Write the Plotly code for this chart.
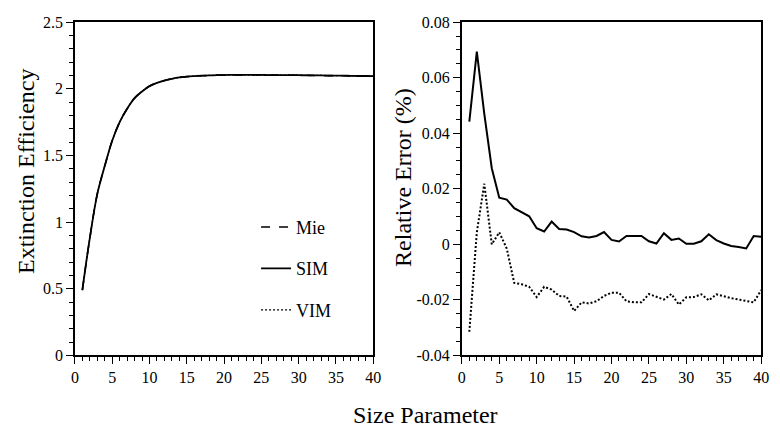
import plotly.graph_objects as go

# Size parameter grid
size_param = list(range(1, 41))

# Extinction efficiency (Mie, SIM and VIM coincide at this scale)
q_ext = [0.49, 0.88, 1.21, 1.42, 1.61, 1.75, 1.85, 1.93, 1.98, 2.02,
         2.045, 2.062, 2.075, 2.085, 2.091, 2.095, 2.098, 2.100, 2.102, 2.103,
         2.104, 2.104, 2.104, 2.104, 2.104, 2.103, 2.103, 2.103, 2.102, 2.102,
         2.101, 2.100, 2.100, 2.099, 2.098, 2.098, 2.097, 2.096, 2.096, 2.095]

# Relative error (%) of SIM and VIM against Mie
err_sim = [0.0442, 0.0694, 0.0470, 0.0274, 0.0168, 0.0161, 0.0130, 0.0115, 0.0101, 0.0058,
           0.0046, 0.0082, 0.0055, 0.0053, 0.0044, 0.0029, 0.0025, 0.0030, 0.0044, 0.0016,
           0.0010, 0.0030, 0.0030, 0.0030, 0.0011, 0.0003, 0.0040, 0.0016, 0.0021, 0.0002,
           0.0002, 0.0011, 0.0036, 0.0015, 0.0003, -0.0006, -0.0010, -0.0015, 0.0030, 0.0027]

err_vim = [-0.0315, 0.0043, 0.0218, 0.0000, 0.0043, -0.0015, -0.0139, -0.0144, -0.0153, -0.0190,
           -0.0153, -0.0163, -0.0186, -0.0188, -0.0240, -0.0209, -0.0213, -0.0205, -0.0186, -0.0174,
           -0.0174, -0.0205, -0.0209, -0.0209, -0.0179, -0.0190, -0.0199, -0.0179, -0.0217, -0.0191,
           -0.0190, -0.0180, -0.0202, -0.0180, -0.0188, -0.0194, -0.0199, -0.0203, -0.0209, -0.0165]

err_ticks = [-0.04, -0.02, 0, 0.02, 0.04, 0.06, 0.08]
err_tick_text = ["-0.04", "-0.02", "0", "0.02", "0.04", "0.06", "0.08"]

FONT = "Liberation Serif"
W, H = 780, 436

fig = go.Figure()

# Left panel: extinction efficiency
fig.add_trace(go.Scatter(x=size_param, y=q_ext, mode="lines", name="Mie",
                         legendgroup="mie", legendrank=1,
                         line=dict(color="black", width=1.6, dash="dash", shape="spline"),
                         xaxis="x", yaxis="y"))
fig.add_trace(go.Scatter(x=size_param, y=q_ext, mode="lines", name="VIM",
                         legendgroup="vim", legendrank=3,
                         line=dict(color="black", width=1.2, dash="2px,2px", shape="spline"),
                         xaxis="x", yaxis="y"))
fig.add_trace(go.Scatter(x=size_param, y=q_ext, mode="lines", name="SIM",
                         legendgroup="sim", legendrank=2,
                         line=dict(color="black", width=1.8, shape="spline"),
                         xaxis="x", yaxis="y"))

# Right panel: relative errors
fig.add_trace(go.Scatter(x=size_param, y=err_sim, mode="lines", showlegend=False,
                         line=dict(color="black", width=2),
                         xaxis="x2", yaxis="y2"))
fig.add_trace(go.Scatter(x=size_param, y=err_vim, mode="lines", showlegend=False,
                         line=dict(color="black", width=2, dash="2px,2px"),
                         xaxis="x2", yaxis="y2"))

tick_font = dict(family=FONT, size=16, color="black")
common = dict(showline=True, linecolor="black", linewidth=1.6, mirror=True,
              ticks="outside", ticklen=7, tickwidth=1.4, tickcolor="black",
              showgrid=False, zeroline=False, tickfont=tick_font)

y_dom = [(H - 361.5) / H, (H - 14.7) / H]

fig.update_layout(
    width=W, height=H, autosize=False,
    margin=dict(l=0, r=0, t=0, b=0),
    paper_bgcolor="white", plot_bgcolor="white",
    font=dict(family=FONT, color="black"),
    xaxis=dict(domain=[72 / W, 375 / W], range=[0, 40], dtick=5, tick0=0,
               minor=dict(dtick=1, tick0=0, ticks="outside", ticklen=4,
                          tickwidth=1.2, tickcolor="black"),
               anchor="y", **common),
    yaxis=dict(domain=y_dom, range=[0, 2.5], dtick=0.5, tick0=0,
               minor=dict(dtick=0.1, tick0=0, ticks="outside", ticklen=4,
                          tickwidth=1.2, tickcolor="black"),
               anchor="x", **common),
    xaxis2=dict(domain=[465 / W, 769 / W], range=[0, 40], dtick=5, tick0=0,
                minor=dict(dtick=1, tick0=0, ticks="outside", ticklen=4,
                           tickwidth=1.2, tickcolor="black"),
                anchor="y2", **common),
    yaxis2=dict(domain=y_dom, range=[-0.04, 0.08],
                tickmode="array", tickvals=err_ticks, ticktext=err_tick_text,
                minor=dict(dtick=0.005, tick0=0, ticks="outside", ticklen=4,
                           tickwidth=1.2, tickcolor="black"),
                anchor="x2", **common),
    legend=dict(x=256 / W, xanchor="left", y=(H - 209) / H, yanchor="top",
                bgcolor="rgba(0,0,0,0)", borderwidth=0,
                font=dict(family=FONT, size=18, color="black"),
                itemwidth=30, tracegroupgap=15, traceorder="grouped"),
    annotations=[
        dict(text="Extinction Efficiency", x=23 / W, y=(H - 170) / H,
             xref="paper", yref="paper", textangle=-90, showarrow=False,
             xanchor="center", yanchor="middle",
             font=dict(family=FONT, size=24, color="black")),
        dict(text="Relative Error (%)", x=405 / W, y=(H - 176) / H,
             xref="paper", yref="paper", textangle=-90, showarrow=False,
             xanchor="center", yanchor="middle",
             font=dict(family=FONT, size=24, color="black")),
        dict(text="Size Parameter", x=428 / W, y=(H - 423) / H,
             xref="paper", yref="paper", showarrow=False,
             xanchor="center", yanchor="middle",
             font=dict(family=FONT, size=24, color="black")),
    ],
)

fig.write_html("out.html")
